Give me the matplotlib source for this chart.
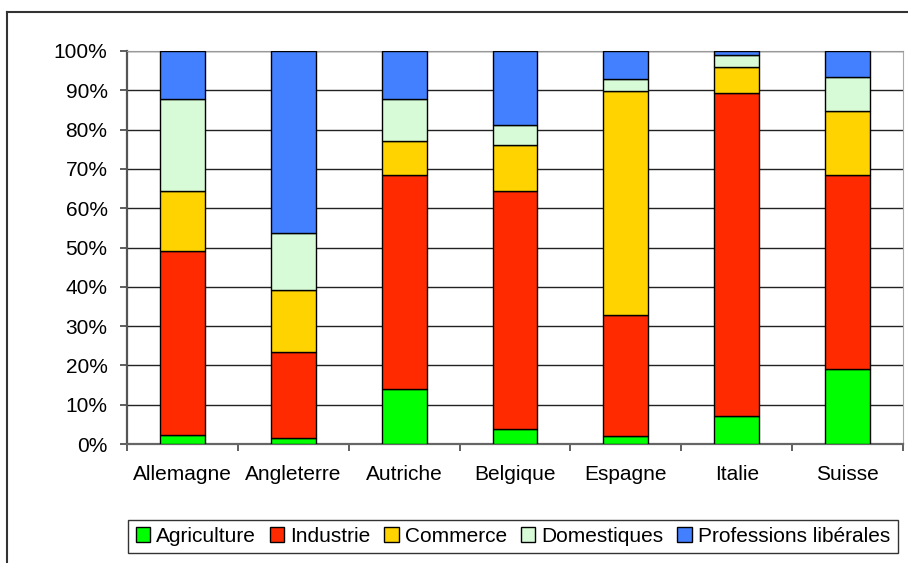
import numpy as np
import matplotlib.pyplot as plt
from matplotlib.lines import Line2D
from matplotlib.ticker import FixedLocator, PercentFormatter

plt.rcParams['font.family'] = ['Liberation Sans', 'DejaVu Sans']

# données (en %)
pays = ["Allemagne", "Angleterre", "Autriche", "Belgique", "Espagne", "Italie", "Suisse"]
agriculture = [2.4, 1.4, 14.1, 3.9, 2.0, 7.0, 19.2]
industrie = [46.7, 21.9, 54.3, 60.5, 30.9, 82.3, 49.2]
commerce = [15.3, 15.8, 8.7, 11.7, 56.8, 6.6, 16.3]
domestiques = [23.3, 14.6, 10.6, 5.0, 3.1, 3.0, 8.6]
professions = [12.3, 46.3, 12.3, 18.9, 7.2, 1.1, 6.7]

series = [
    ("Agriculture", agriculture, "#00ff00"),
    ("Industrie", industrie, "#ff2a00"),
    ("Commerce", commerce, "#ffd300"),
    ("Domestiques", domestiques, "#d6fbd6"),
    ("Professions libérales", professions, "#4380ff"),
]

fig = plt.figure(figsize=(9.08, 5.63), dpi=100)
ax = fig.add_axes([127/908, 1-444/563, (903-127)/908, (444-51)/563])

x = np.arange(len(pays))
bottom = np.zeros(len(pays))
for nom, vals, col in series:
    ax.bar(x, vals, bottom=bottom, width=0.405, color=col, edgecolor="black",
           linewidth=1, label=nom, zorder=3)
    bottom += np.array(vals)

ax.set_xlim(-0.5, len(pays) - 0.5)
ax.set_ylim(0, 100)
ax.set_yticks(np.arange(0, 101, 10))
ax.yaxis.set_major_formatter(PercentFormatter(decimals=0))
ax.yaxis.grid(True, color="#222222", linewidth=1)
ax.set_axisbelow(True)

ax.set_xticks(x)
ax.set_xticklabels(pays)
ax.xaxis.set_minor_locator(FixedLocator(np.arange(-0.5, len(pays), 1.0)))
ax.tick_params(axis="x", which="major", length=0, pad=15, labelsize=15)
ax.tick_params(axis="x", which="minor", length=5, width=1.2, color="#444444")
ax.tick_params(axis="y", length=5, width=1.2, color="#444444", pad=9, labelsize=15)

ax.spines["left"].set_color("#555555")
ax.spines["left"].set_linewidth(1.6)
ax.spines["bottom"].set_color("#666666")
ax.spines["bottom"].set_linewidth(1.6)
ax.spines["top"].set_color("#999999")
ax.spines["right"].set_color("#aaaaaa")

leg = fig.legend(loc="center", bbox_to_anchor=(513/908, 1-536.5/563), ncol=5,
                 fontsize=15, frameon=True, fancybox=False, edgecolor="black",
                 handlelength=0.7, handleheight=0.7, handletextpad=0.3,
                 columnspacing=0.65, borderpad=0.35, borderaxespad=0)
leg.get_frame().set_linewidth(1)
for h in leg.legend_handles:
    h.set_edgecolor("black")
    h.set_linewidth(1)

# cadre extérieur
fig.add_artist(Line2D([7/908, 1], [1-12/563, 1-12/563], color="#333333", linewidth=1.5))
fig.add_artist(Line2D([7/908, 7/908], [0, 1-12/563], color="#333333", linewidth=1.5))

fig.savefig("out.png", dpi=100)
